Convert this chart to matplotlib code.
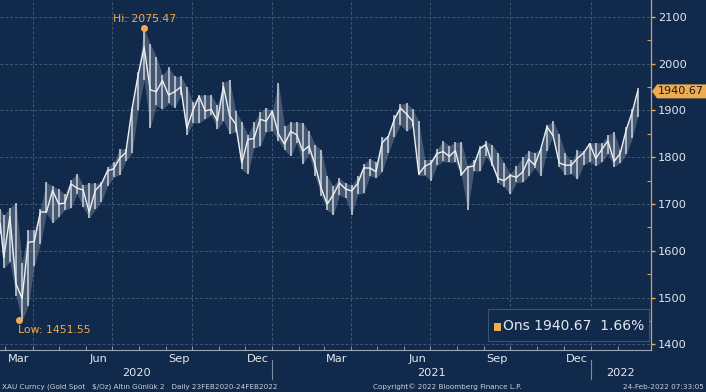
"""Gold spot (XAU) daily chart, Bloomberg style, Feb 2020 - Feb 2022."""

import matplotlib

matplotlib.use("Agg")
import matplotlib.dates as mdates
import matplotlib.pyplot as plt
import pandas as pd
from matplotlib.patches import Polygon, Rectangle
from matplotlib.ticker import FixedLocator, MultipleLocator

# weekly high / low / close (week ending Friday)
START_DAY = "2020-02-24"
START_HLC = (1689, 1636, 1658)
WEEK_START = "2020-02-28"
LAST_DAY = "2022-02-24"
LAST_HLC = (1949, 1886, 1940.67)

WEEK_HIGH = [
    1676, 1692, 1703, 1575, 1645, 1645, 1690, 1747, 1738, 1732, 1721, 1751, 1765, 1740, 1745,
    1744, 1746, 1779, 1789, 1818, 1818, 1906, 1983, 2075, 2042, 2015, 1976, 1992, 1973, 1973,
    1951, 1917, 1933, 1933, 1933, 1911, 1960, 1966, 1898, 1876, 1848, 1875, 1896, 1906, 1900,
    1959, 1866, 1875, 1875, 1874, 1855, 1827, 1816, 1759, 1739, 1755, 1745, 1740, 1759, 1785,
    1797, 1790, 1843, 1845, 1890, 1913, 1916, 1903, 1877, 1795, 1795, 1818, 1834, 1825, 1832,
    1832, 1782, 1795, 1823, 1834, 1827, 1809, 1787, 1765, 1781, 1800, 1814, 1810, 1818, 1868,
    1877, 1849, 1808, 1793, 1815, 1813, 1831,
    1831, 1830, 1848, 1853, 1815, 1865, 1902,
]
WEEK_LOW = [
    1563, 1576, 1504, 1451, 1482, 1567, 1615, 1680, 1660, 1672, 1688, 1691, 1722, 1693, 1670,
    1689, 1705, 1738, 1757, 1763, 1792, 1808, 1900, 1965, 1863, 1911, 1902, 1915, 1906, 1932,
    1848, 1873, 1873, 1882, 1890, 1860, 1878, 1850, 1854, 1774, 1764, 1820, 1823, 1854, 1856,
    1835, 1816, 1802, 1831, 1785, 1807, 1760, 1717, 1687, 1677, 1719, 1713, 1677, 1721, 1723,
    1760, 1756, 1769, 1808, 1843, 1869, 1855, 1866, 1761, 1761, 1750, 1783, 1791, 1789, 1790,
    1759, 1687, 1770, 1770, 1802, 1782, 1745, 1737, 1721, 1746, 1746, 1760, 1778, 1759, 1813,
    1846, 1779, 1762, 1765, 1753, 1784, 1790,
    1782, 1790, 1807, 1780, 1788, 1807, 1842,
]
WEEK_CLOSE = [
    1585, 1673, 1530, 1498, 1618, 1620, 1683, 1683, 1729, 1700, 1702, 1743, 1734, 1730, 1683,
    1729, 1743, 1771, 1775, 1798, 1810, 1902, 1975, 2035, 1944, 1940, 1964, 1933, 1940, 1950,
    1862, 1900, 1930, 1899, 1902, 1878, 1951, 1889, 1871, 1788, 1838, 1840, 1881, 1877, 1898,
    1850, 1828, 1855, 1848, 1813, 1824, 1784, 1734, 1700, 1720, 1745, 1732, 1728, 1744, 1777,
    1777, 1769, 1831, 1844, 1881, 1905, 1892, 1877, 1764, 1781, 1787, 1808, 1812, 1802, 1814,
    1763, 1779, 1781, 1818, 1827, 1787, 1754, 1750, 1761, 1757, 1768, 1796, 1783, 1818, 1865,
    1846, 1788, 1783, 1783, 1798, 1809, 1829,
    1797, 1817, 1835, 1791, 1808, 1859, 1898,
]

HI_DAY, HI_VALUE = "2020-08-07", 2075.47
LOW_DAY, LOW_VALUE = "2020-03-16", 1451.55
LAST_PRICE, LAST_CHANGE = 1940.67, 1.66

Y_TICKS = [1400, 1500, 1600, 1700, 1800, 1900, 2000, 2100]
MONTH_LABELS = ["Mar", "Jun", "Sep", "Dec"]
YEARS = ["2020", "2021", "2022"]

BG = "#112a4b"
GRID = "#3f5877"
ORANGE = "#f0aa50"
TEXT = "#e3e8ee"
LINE = "#eef0f3"

FIG_W, FIG_H = 706, 392
AX_W, AX_H = 651, 350


def main():
    weeks = pd.date_range(WEEK_START, periods=len(WEEK_CLOSE), freq="W-FRI")
    dates = [pd.Timestamp(START_DAY)] + list(weeks) + [pd.Timestamp(LAST_DAY)]
    highs = [START_HLC[0]] + WEEK_HIGH + [LAST_HLC[0]]
    lows = [START_HLC[1]] + WEEK_LOW + [LAST_HLC[1]]
    closes = [START_HLC[2]] + WEEK_CLOSE + [LAST_HLC[2]]
    x = mdates.date2num(dates)

    fig = plt.figure(figsize=(FIG_W / 100, FIG_H / 100), dpi=100, facecolor=BG)
    ax = fig.add_axes([0, 1 - AX_H / FIG_H, AX_W / FIG_W, AX_H / FIG_H])
    ax.set_facecolor(BG)

    x0 = mdates.date2num(pd.Timestamp(START_DAY)) - 0.3
    x1 = x0 + AX_W / 0.8719
    ax.set_xlim(x0, x1)
    ax.set_ylim(1388, 2136)

    # grid
    for v in Y_TICKS:
        ax.axhline(v, color=GRID, lw=0.7, ls=(0, (3, 2)), zorder=1)
    quarters = pd.date_range("2020-04-01", "2022-01-01", freq="QS")
    for q in quarters:
        ax.axvline(mdates.date2num(q), color=GRID, lw=0.7, ls=(0, (3, 2)), zorder=1)

    # price ribbon: faint weekly range, weekly high-low bars, close line
    ax.fill_between(x, lows, highs, color="#b0b9c4", alpha=0.32, lw=0, zorder=2)
    ax.vlines(x, lows, highs, color="#c3cad3", lw=1.2, zorder=3)
    ax.plot(x, closes, color=LINE, lw=1.0, zorder=4)

    # high / low annotations
    hx = mdates.date2num(pd.Timestamp(HI_DAY))
    lx = mdates.date2num(pd.Timestamp(LOW_DAY))
    ax.plot([hx], [HI_VALUE], "o", color=ORANGE, ms=4, zorder=5)
    ax.plot([lx], [LOW_VALUE], "o", color=ORANGE, ms=4, zorder=5)
    ax.annotate(f"Hi: {HI_VALUE:.2f}", (hx, HI_VALUE), xytext=(0, 9),
                textcoords="offset pixels", ha="center", va="center",
                color=ORANGE, fontsize=7.8)
    ax.annotate(f"Low: {LOW_VALUE:.2f}", (lx, LOW_VALUE), xytext=(-1, -10),
                textcoords="offset pixels", ha="left", va="center",
                color=ORANGE, fontsize=7.8)

    # spines
    for side in ("top", "left"):
        ax.spines[side].set_visible(False)
    ax.spines["bottom"].set_color("#9aa8b8")
    ax.spines["bottom"].set_linewidth(0.8)
    ax.spines["right"].set_color("#c9a46a")
    ax.spines["right"].set_linewidth(0.9)

    # y axis on the right
    ax.yaxis.tick_right()
    ax.yaxis.set_major_locator(FixedLocator(Y_TICKS))
    ax.yaxis.set_minor_locator(MultipleLocator(50))
    ax.tick_params(axis="y", which="major", direction="out", length=3, width=1,
                   color=ORANGE, labelcolor=TEXT, labelsize=8.2, pad=2)
    ax.tick_params(axis="y", which="minor", direction="in", length=3, width=0.8,
                   color="#c9a46a")

    # x axis: month labels mid month, minor ticks on month starts
    label_days = [d + pd.Timedelta(days=15)
                  for d in pd.date_range("2020-03-01", "2021-12-01", freq="MS")
                  if d.month in (3, 6, 9, 12)]
    ax.xaxis.set_major_locator(FixedLocator(mdates.date2num(label_days)))
    ax.set_xticklabels([MONTH_LABELS[(d.month // 3) - 1] for d in label_days])
    ax.xaxis.set_minor_locator(FixedLocator(
        mdates.date2num(pd.date_range("2020-03-01", "2022-02-01", freq="MS"))))
    ax.tick_params(axis="x", which="major", length=0, labelcolor=TEXT,
                   labelsize=8.2, pad=3)
    ax.tick_params(axis="x", which="minor", direction="in", length=3, width=0.7,
                   color="#8e9cad")

    # year labels and separators
    year_edges = [x0, mdates.date2num(pd.Timestamp("2021-01-01")),
                  mdates.date2num(pd.Timestamp("2022-01-01")), x1]
    trans = ax.get_xaxis_transform()
    for i, year in enumerate(YEARS):
        ax.text((year_edges[i] + year_edges[i + 1]) / 2, -23 / AX_H, year,
                transform=trans, ha="center", va="center", color=TEXT,
                fontsize=8.2, clip_on=False)
    for edge in year_edges[1:3]:
        ax.plot([edge, edge], [-10 / AX_H, -29 / AX_H], transform=trans,
                color="#7d8c9e", lw=0.8, clip_on=False)

    # last price tag
    tag_y = 1 - (AX_H - (LAST_PRICE - 1388) / (2136 - 1388) * AX_H) / FIG_H
    th = 7 / FIG_H
    tag = Polygon([(652 / FIG_W, tag_y), (657 / FIG_W, tag_y + th),
                   (1.0, tag_y + th), (1.0, tag_y - th), (657 / FIG_W, tag_y - th)],
                  closed=True, transform=fig.transFigure, facecolor=ORANGE,
                  edgecolor="none")
    fig.add_artist(tag)
    fig.text(681 / FIG_W, tag_y, f"{LAST_PRICE:.2f}", ha="center", va="center",
             color="#1b1b1b", fontsize=8)

    # legend box
    box = Rectangle((488 / FIG_W, 1 - 341 / FIG_H), 161 / FIG_W, 32 / FIG_H,
                    transform=fig.transFigure, facecolor=BG, edgecolor="#3b536f",
                    lw=0.8)
    fig.add_artist(box)
    fig.add_artist(Rectangle((494 / FIG_W, 1 - 331 / FIG_H), 7 / FIG_W, 8 / FIG_H,
                             transform=fig.transFigure, facecolor=ORANGE,
                             edgecolor="none"))
    fig.text(503 / FIG_W, 1 - 326 / FIG_H, f"Ons {LAST_PRICE:.2f}  {LAST_CHANGE:.2f}%",
             ha="left", va="center", color=TEXT, fontsize=10)

    # footer
    fig.text(2 / FIG_W, 5 / FIG_H,
             "XAU Curncy (Gold Spot   $/Oz) Altın Günlük 2   Daily 23FEB2020-24FEB2022",
             ha="left", va="center", color="#c8d0da", fontsize=5.2)
    fig.text(447 / FIG_W, 5 / FIG_H, "Copyright© 2022 Bloomberg Finance L.P.",
             ha="center", va="center", color="#c8d0da", fontsize=5.2)
    fig.text(704 / FIG_W, 5 / FIG_H, "24-Feb-2022 07:33:05",
             ha="right", va="center", color="#c8d0da", fontsize=5.2)

    fig.savefig("out.png", dpi=100, facecolor=BG)
    plt.close(fig)


if __name__ == "__main__":
    main()
